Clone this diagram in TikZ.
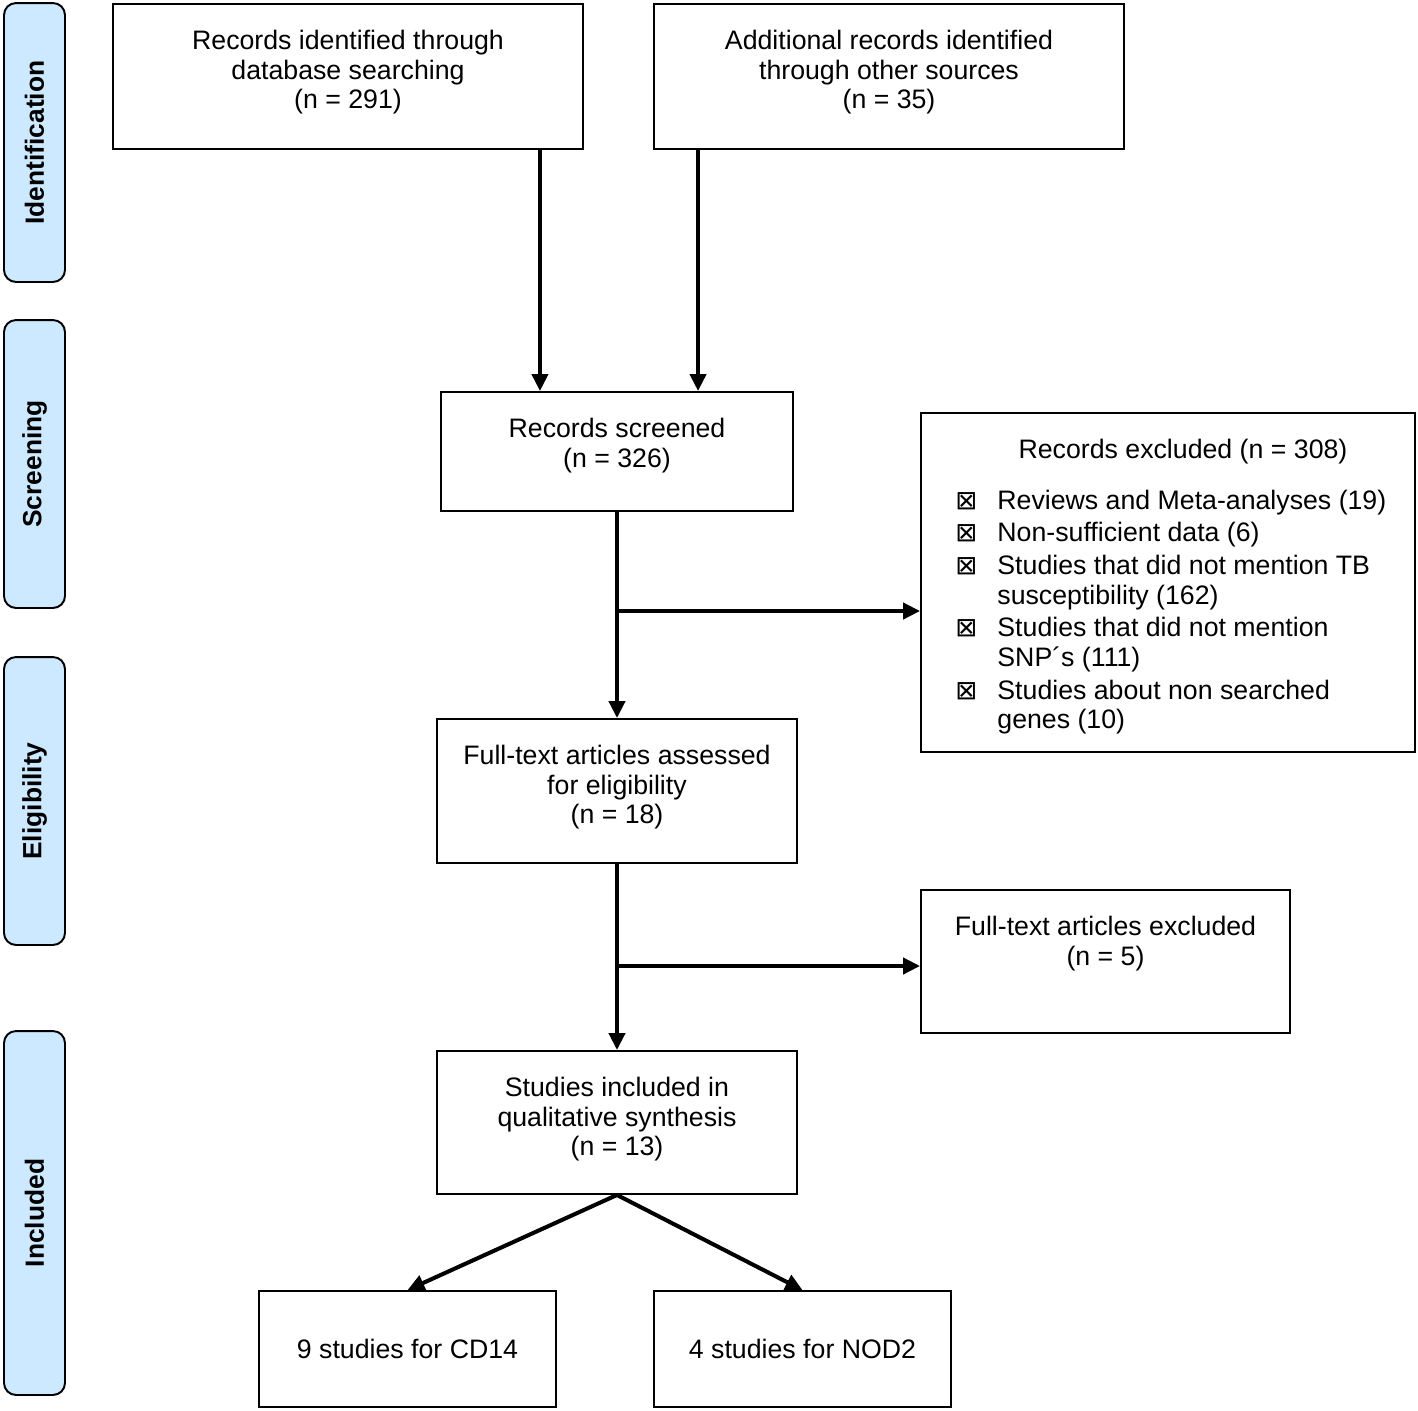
\documentclass[tikz,border=0pt]{standalone}
\usepackage{fontspec}
\setmainfont{Liberation Sans}
\newfontfamily\symfont{DejaVu Sans}
\usetikzlibrary{arrows.meta}
\definecolor{sideblue}{RGB}{205,233,255}
\newcommand{\bul}{{\symfont\fontsize{15}{17}\selectfont ⊠}}
\tikzset{
  box/.style={draw, line width=1.1pt, inner sep=0pt},
  lbl/.style={anchor=north, yshift=-0.53cm, align=center, inner sep=0pt},
  side/.style={draw, line width=1.1pt, rounded corners=0.24cm, fill=sideblue,
    minimum width=1.22cm, inner sep=0pt},
  sidetext/.style={rotate=90, font=\bfseries\fontsize{15}{17}\selectfont},
  arr/.style={line width=2.3pt, -{Triangle[length=0.34cm,width=0.32cm]}}
}
\begin{document}
\begin{tikzpicture}[x=0.02cm, y=-0.02cm, font=\fontsize{15.2}{17}\selectfont]
  \useasboundingbox (0,0) rectangle (1418,1411);
  % phases
  \node[side, minimum height=5.58cm] (ident) at (34.5,142.5) {};
  \node[sidetext] at (ident) {Identification};
  \node[side, minimum height=5.76cm] (screen) at (34.5,464) {};
  \node[sidetext] at (screen) {Screening};
  \node[side, minimum height=5.76cm] (elig) at (34.5,801) {};
  \node[sidetext] at (elig) {Eligibility};
  \node[side, minimum height=7.28cm] (incl) at (34.5,1213) {};
  \node[sidetext] at (incl) {Included};
  % boxes
  \node[box, minimum width=9.4cm, minimum height=2.9cm,
    label={[lbl]north:{Records identified through\\database searching\\(n = 291)}}]
    (recdb) at (348,76.5) {};
  \node[box, minimum width=9.4cm, minimum height=2.9cm,
    label={[lbl]north:{Additional records identified\\through other sources\\(n = 35)}}]
    (recother) at (889,76.5) {};
  \node[box, minimum width=7.04cm, minimum height=2.38cm,
    label={[lbl]north:{Records screened\\(n = 326)}}]
    (screened) at (617,451.5) {};
  \node[box, minimum width=9.88cm, minimum height=6.78cm,
    label={[lbl, xshift=0.3cm]north:{Records excluded (n = 308)}}]
    (excluded) at (1168,582.5) {};
  \node[anchor=north west, inner sep=0pt, align=left] (exlist) at (955,488) {%
    \begin{tabular}{@{}l@{\hspace{0.4cm}}l@{}}
      \bul & Reviews and Meta-analyses (19)\\[1.5pt]
      \bul & Non-sufficient data (6)\\[1.5pt]
      \bul & Studies that did not mention TB\\
           & susceptibility (162)\\[1.5pt]
      \bul & Studies that did not mention\\
           & SNP´s (111)\\[1.5pt]
      \bul & Studies about non searched\\
           & genes (10)
    \end{tabular}};
  \node[box, minimum width=7.2cm, minimum height=2.88cm,
    label={[lbl]north:{Full-text articles assessed\\for eligibility\\(n = 18)}}]
    (fulltext) at (617,791) {};
  \node[box, minimum width=7.38cm, minimum height=2.86cm,
    label={[lbl]north:{Full-text articles excluded\\(n = 5)}}]
    (ftexcl) at (1105.5,961.5) {};
  \node[box, minimum width=7.2cm, minimum height=2.86cm,
    label={[lbl]north:{Studies included in\\qualitative synthesis\\(n = 13)}}]
    (included) at (617,1122.5) {};
  \node[box, minimum width=5.94cm, minimum height=2.32cm] (cd14) at (407.5,1349) {9 studies for CD14};
  \node[box, minimum width=5.94cm, minimum height=2.32cm] (nod2) at (802.5,1349) {4 studies for NOD2};
  % connectors
  \coordinate (b1) at (617,611);
  \coordinate (b2) at (617,966);
  \begin{scope}[arr]
    \draw ([xshift=3.84cm]recdb.south) coordinate (p1) -- (p1 |- screened.north);
    \draw ([xshift=-3.82cm]recother.south) coordinate (p2) -- (p2 |- screened.north);
    \draw (screened) -- (fulltext);
    \draw (b1) -- (b1 -| excluded.west);
    \draw (fulltext) -- (included);
    \draw (b2) -- (b2 -| ftexcl.west);
    \draw (included.south) -- (cd14.north);
    \draw (included.south) -- (nod2.north);
  \end{scope}
\end{tikzpicture}
\end{document}
